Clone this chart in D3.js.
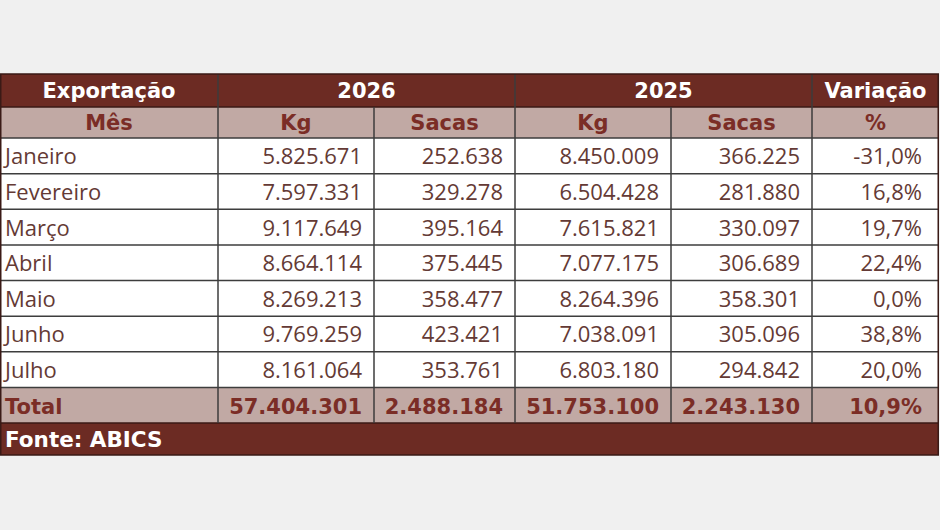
<!DOCTYPE html>
<html>
<head>
<meta charset="utf-8">
<script src="https://cdn.jsdelivr.net/npm/d3@7"></script>
<style>
  body { margin: 0; background: #f0f0f0; }
  svg { display: block; }
</style>
</head>
<body>
<script>
const months = ["Janeiro", "Fevereiro", "Março", "Abril", "Maio", "Junho", "Julho"];
const kg2026 = [5825671, 7597331, 9117649, 8664114, 8269213, 9769259, 8161064];
const sacas2026 = [252638, 329278, 395164, 375445, 358477, 423421, 353761];
const kg2025 = [8450009, 6504428, 7615821, 7077175, 8264396, 7038091, 6803180];
const sacas2025 = [366225, 281880, 330097, 306689, 358301, 305096, 294842];
const variacao = [-31.0, 16.8, 19.7, 22.4, 0.0, 38.8, 20.0];
const totals = {kg2026: 57404301, sacas2026: 2488184, kg2025: 51753100, sacas2025: 2243130, variacao: 10.9};
const groupHeaders = ["Exportação", "2026", "2025", "Variação"];
const subHeaders = ["Mês", "Kg", "Sacas", "Kg", "Sacas", "%"];
const source = "Fonte: ABICS";

const W = 940, H = 530;
const dark = "#6c2b23", light = "#c1a9a4", headText = "#7b2d26", cellText = "#643a35";

// column edges (layout)
const colEdges = [0, 218, 374, 515, 671, 812, 939];
const x = i => colEdges[i];
const cw = i => colEdges[i + 1] - colEdges[i];

const tableTop = 74, h1 = 33, h2 = 31;
const y = d3.scaleBand().domain(d3.range(months.length + 1)).range([tableTop + h1 + h2, 423]);
const bottom = 455;

const locale = d3.formatLocale({decimal: ",", thousands: ".", grouping: [3], currency: ["", ""], minus: "-"});
const fmtInt = locale.format(",d");
const fmtPct = locale.format(".1f");
const pct = v => fmtPct(v) + "%";

const svg = d3.select("body").append("svg").attr("width", W).attr("height", H);

// header band 1
svg.append("rect").attr("x", 0).attr("y", tableTop).attr("width", colEdges[6]).attr("height", h1).attr("fill", dark);
const spans = [[0, 1], [1, 3], [3, 5], [5, 6]];
svg.selectAll("text.g").data(groupHeaders).enter().append("text")
  .attr("class", "g")
  .attr("x", (d, i) => (x(spans[i][0]) + x(spans[i][1])) / 2)
  .attr("y", tableTop + h1 / 2 + 7.5)
  .attr("text-anchor", "middle")
  .attr("fill", "#fff")
  .style("font", "bold 21px 'DejaVu Sans'")
  .text(d => d);

// header band 2
svg.append("rect").attr("x", 0).attr("y", tableTop + h1).attr("width", colEdges[6]).attr("height", h2).attr("fill", light);
svg.selectAll("text.s").data(subHeaders).enter().append("text")
  .attr("class", "s")
  .attr("x", (d, i) => x(i) + cw(i) / 2)
  .attr("y", tableTop + h1 + h2 / 2 + 7.5)
  .attr("text-anchor", "middle")
  .attr("fill", headText)
  .style("font", "bold 21px 'DejaVu Sans'")
  .text(d => d);

// body rows
const rows = months.map((m, i) => [m, fmtInt(kg2026[i]), fmtInt(sacas2026[i]), fmtInt(kg2025[i]), fmtInt(sacas2025[i]), pct(variacao[i])]);
const totalRow = ["Total", fmtInt(totals.kg2026), fmtInt(totals.sacas2026), fmtInt(totals.kg2025), fmtInt(totals.sacas2025), pct(totals.variacao)];

svg.append("rect").attr("x", 0).attr("y", y(0)).attr("width", colEdges[6]).attr("height", y(months.length) - y(0)).attr("fill", "#fff");
svg.append("rect").attr("x", 0).attr("y", y(months.length)).attr("width", colEdges[6]).attr("height", y.bandwidth()).attr("fill", light);

const rowG = svg.selectAll("g.row").data(rows.concat([totalRow])).enter().append("g")
  .attr("class", "row")
  .attr("transform", (d, i) => `translate(0,${y(i)})`);

rowG.selectAll("text").data((d, ri) => d.map(v => ({v, total: ri === months.length}))).enter().append("text")
  .attr("x", (d, i) => i === 0 ? 5 : x(i + 1) - (i === 5 ? 17 : 12))
  .attr("y", y.bandwidth() / 2 + 8.5)
  .attr("text-anchor", (d, i) => i === 0 ? "start" : "end")
  .attr("fill", d => d.total ? headText : cellText)
  .style("font", d => d.total ? "bold 21px 'DejaVu Sans'" : "22px 'Open Sans'")
  .text(d => d.v);

// footer
svg.append("rect").attr("x", 0).attr("y", 423).attr("width", colEdges[6]).attr("height", bottom - 423).attr("fill", dark);
svg.append("text").attr("x", 5).attr("y", 423 + (bottom - 423) / 2 + 7.5)
  .attr("fill", "#fff").style("font", "bold 21.5px 'DejaVu Sans'").text(source);

// grid lines
const lineCol = "#3d3d3d";
svg.selectAll("line.h").data(d3.range(months.length + 1)).enter().append("line")
  .attr("x1", 0).attr("x2", colEdges[6])
  .attr("y1", d => y(d)).attr("y2", d => y(d))
  .attr("stroke", lineCol).attr("stroke-width", 1.5);
svg.append("line").attr("x1", 0).attr("x2", colEdges[6]).attr("y1", 423).attr("y2", 423).attr("stroke", "#3a1a16").attr("stroke-width", 1.5);
svg.append("line").attr("x1", 0).attr("x2", colEdges[6]).attr("y1", tableTop + h1).attr("y2", tableTop + h1).attr("stroke", "#3a1a16").attr("stroke-width", 1.5);

// verticals: full-height ones and the inner ones starting under band 1
[1, 3, 5].forEach(c => {
  svg.append("line").attr("x1", x(c)).attr("x2", x(c)).attr("y1", tableTop).attr("y2", 423).attr("stroke", lineCol).attr("stroke-width", 1.5);
});
[2, 4].forEach(c => {
  svg.append("line").attr("x1", x(c)).attr("x2", x(c)).attr("y1", tableTop + h1).attr("y2", 423).attr("stroke", lineCol).attr("stroke-width", 1.5);
});
svg.append("rect").attr("x", 0.75).attr("y", tableTop).attr("width", colEdges[6] - 1.5).attr("height", bottom - tableTop)
  .attr("fill", "none").attr("stroke", "#3a1a16").attr("stroke-width", 1.5);
</script>
</body>
</html>
